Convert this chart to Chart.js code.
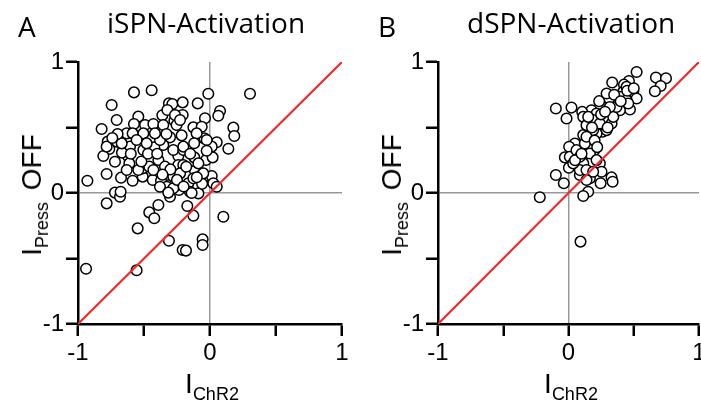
<!DOCTYPE html>
<html>
<head>
<meta charset="utf-8">
<script src="https://cdn.jsdelivr.net/npm/chart.js@4"></script>
<style>
html, body { margin:0; padding:0; background:#fff; }
body { width:701px; height:402px; overflow:hidden; position:relative; }
canvas { position:absolute; top:0; }
.txt { position:absolute; white-space:nowrap; color:#000; }
.head { font-family:"Open Sans", sans-serif; font-size:28px; line-height:28px; }
.lab { font-family:"Liberation Sans", Arial, sans-serif; font-size:28px; line-height:28px; }
.lab sub { font-size:18px; line-height:0; vertical-align:-7px; }
.ylab { transform:translate(-50%,-50%) rotate(-90deg); }
.ylab sub { margin-right:4px; }
.xlab { transform:translateX(-50%); }
</style>
</head>
<body>
<canvas id="chartA" width="360" height="402" style="left:0"></canvas>
<canvas id="chartB" width="360" height="402" style="left:360px"></canvas>

<div class="txt head" style="left:18px;top:12px">A</div>
<div class="txt head" style="left:107px;top:8px">iSPN-Activation</div>
<div class="txt head" style="left:378px;top:12px">B</div>
<div class="txt head" style="left:467px;top:8px">dSPN-Activation</div>

<div class="txt lab ylab" style="left:32px;top:195px">I<sub>Press</sub> OFF</div>
<div class="txt lab ylab" style="left:392px;top:195px">I<sub>Press</sub> OFF</div>
<div class="txt lab xlab" style="left:212px;top:370px">I<sub>ChR2</sub></div>
<div class="txt lab xlab" style="left:571px;top:370px">I<sub>ChR2</sub></div>

<script>
// tick labels shown on both axes
const tickLabels = [-1, 0, 1];

// iSPN activation: I_ChR2 vs I_Press OFF
const iSpnX = [-0.576,-0.442,-0.745,-0.311,-0.285,-0.207,-0.093,-0.013,0.303,0.076,
  0.063,-0.038,-0.707,-0.543,-0.576,-0.821,-0.492,-0.429,-0.361,-0.323,
  -0.270,-0.207,-0.253,-0.126,-0.063,0.177,0.184,0.139,0.051,0.013,
  -0.088,-0.043,-0.215,-0.303,-0.354,-0.422,-0.775,-0.707,-0.763,-0.808,
  -0.720,-0.657,-0.606,-0.631,-0.586,-0.505,-0.619,-0.611,-0.783,-0.674,
  -0.586,-0.510,-0.510,-0.455,-0.460,-0.391,-0.341,-0.328,-0.434,-0.371,
  -0.929,-0.720,-0.682,-0.677,-0.783,-0.328,-0.303,-0.240,-0.240,-0.202,
  -0.235,-0.164,-0.152,-0.088,-0.114,-0.076,-0.051,0.013,0.025,0.051,
  -0.030,0.020,-0.119,-0.172,-0.126,0.101,-0.391,-0.460,-0.422,-0.548,
  -0.311,-0.207,-0.182,-0.056,-0.056,-0.939,-0.556,-0.783,-0.667,-0.505,
  -0.480,-0.379,-0.278,-0.202,-0.417,-0.354,-0.543,-0.278,-0.227,-0.126,
  -0.051,-0.202,-0.088,-0.379,-0.278,-0.316,-0.025,-0.101,-0.025,-0.631,
  -0.669,-0.556,-0.265,-0.227,-0.429,-0.139,-0.600,-0.520,-0.470,-0.400,
  -0.300,-0.250,-0.180,-0.150,-0.120,-0.330,-0.700,-0.740,-0.200,-0.060,
  -0.100,-0.360];
const iSpnY = [0.768,0.784,0.672,0.684,0.679,0.692,0.684,0.758,0.758,0.626,
  0.590,0.570,0.557,0.583,0.527,0.489,0.519,0.527,0.593,0.634,
  0.552,0.595,0.519,0.501,0.506,0.499,0.435,0.338,0.387,0.354,
  0.425,0.417,0.440,0.425,0.366,0.349,0.392,0.392,0.336,0.282,
  0.239,0.328,0.354,0.455,0.455,0.455,0.277,0.226,0.145,0.117,
  0.094,0.125,0.188,0.252,0.201,0.252,0.201,0.137,0.099,0.094,
  0.094,0.003,-0.028,0.010,-0.079,0.048,-0.028,0.282,0.214,0.214,
  0.023,0.074,0.010,-0.003,0.170,0.130,0.112,0.130,0.074,0.048,
  0.252,0.272,0.272,-0.099,-0.173,-0.181,-0.092,-0.148,-0.193,-0.270,
  -0.364,-0.435,-0.440,-0.354,-0.397,-0.578,-0.590,0.354,0.308,0.328,
  0.379,0.405,0.328,0.328,0.455,0.519,0.176,0.125,0.150,0.112,
  0.150,0.354,0.226,0.048,0.036,0.003,0.405,0.455,0.323,0.176,
  0.379,0.405,0.595,0.557,0.176,0.000,0.300,0.240,0.300,0.300,
  0.180,0.100,0.200,0.300,0.380,0.450,0.450,0.420,0.050,0.070,
  0.120,0.140];

// dSPN activation
const dSpnX = [0.522,0.670,0.747,0.706,0.662,0.463,0.425,0.335,0.496,0.522,
  0.419,0.471,0.394,0.343,0.312,0.235,0.176,0.105,-0.097,0.023,
  -0.015,0.113,0.215,0.279,0.330,0.261,0.176,0.113,0.138,0.197,
  0.049,0.005,-0.028,0.010,0.074,0.118,0.164,0.240,0.003,-0.097,
  -0.036,0.087,0.164,0.253,0.246,0.330,0.338,0.151,0.113,-0.220,
  0.092,0.297,0.253,0.189,0.343,0.394,0.445,0.458,0.164,0.113,
  0.087,0.125,0.061,0.087,0.215,0.292,0.368,0.317,0.189,0.138,
  0.164,0.215,0.036,0.138,0.240,0.151,0.292,0.445,0.138,0.189,
  0.200,0.250,0.350,0.400,0.300,0.050,0.100,0.220,0.450,0.500,
  0.280,0.180];
const dSpnY = [0.924,0.881,0.876,0.817,0.777,0.855,0.827,0.843,0.772,0.721,
  0.772,0.637,0.632,0.695,0.721,0.701,0.632,0.619,0.645,0.652,
  0.569,0.581,0.607,0.556,0.530,0.467,0.416,0.442,0.518,0.327,
  0.378,0.353,0.272,0.277,0.226,0.302,0.226,0.226,0.193,0.137,
  0.074,0.137,0.112,0.162,0.074,0.119,0.086,0.010,-0.023,-0.033,
  -0.371,0.632,0.505,0.556,0.581,0.734,0.708,0.683,0.353,0.226,
  0.175,0.378,0.327,0.277,0.454,0.480,0.657,0.657,0.480,0.429,
  0.302,0.251,0.226,0.175,0.530,0.581,0.759,0.810,0.099,0.162,
  0.400,0.600,0.750,0.700,0.500,0.250,0.300,0.350,0.780,0.800,
  0.620,0.500];

// unity line
const unityX = [-1, 1];
const unityY = [-1, 1];

function toPoints(xs, ys) {
  return xs.map((x, i) => ({x: x, y: ys[i]}));
}

function makeScale(axis, size) {
  return {
    type: 'linear',
    min: -1,
    max: 1,
    ticks: {
      stepSize: 0.5,
      autoSkip: false,
      maxRotation: 0,
      padding: axis === 'x' ? 3 : 2,
      color: '#000',
      font: {family: 'Liberation Sans', size: 24},
      callback: v => tickLabels.includes(v) ? String(v) : ''
    },
    grid: {
      color: c => (c.tick && c.tick.value === 0) ? '#999' : 'rgba(0,0,0,0)',
      lineWidth: 1.5,
      drawTicks: true,
      tickLength: 12,
      tickColor: '#000',
      tickWidth: 2.5
    },
    border: {display: true, color: '#000', width: 2.5},
    afterFit: s => {
      if (axis === 'x') s.height = size; else s.width = size;
    }
  };
}

function makeChart(id, xs, ys, padRight) {
  return new Chart(document.getElementById(id), {
    type: 'scatter',
    data: {
      datasets: [
        {
          type: 'line',
          data: toPoints(unityX, unityY),
          borderColor: '#ee2a2f',
          borderWidth: 2.2,
          pointRadius: 0,
          order: 0
        },
        {
          data: toPoints(xs, ys),
          pointRadius: 5.3,
          pointBackgroundColor: '#fff',
          pointBorderColor: '#000',
          pointBorderWidth: 1.5,
          order: 1
        }
      ]
    },
    options: {
      responsive: false,
      animation: false,
      layout: {padding: {top: 62, right: padRight, left: 0, bottom: 0}},
      plugins: {legend: {display: false}, tooltip: {enabled: false}},
      scales: {
        x: makeScale('x', 78),
        y: makeScale('y', 78)
      }
    }
  });
}

makeChart('chartA', iSpnX, iSpnY, 18);
makeChart('chartB', dSpnX, dSpnY, 21);
</script>
</body>
</html>
